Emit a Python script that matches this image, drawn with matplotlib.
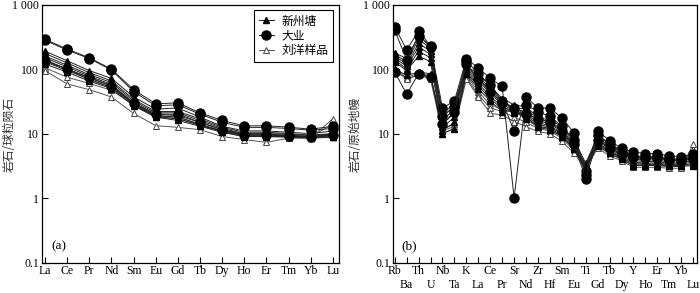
import matplotlib.pyplot as plt

plt.rcParams['font.family'] = ['Liberation Serif', 'Noto Sans CJK SC']

ree = ['La', 'Ce', 'Pr', 'Nd', 'Sm', 'Eu', 'Gd', 'Tb', 'Dy', 'Ho', 'Er', 'Tm', 'Yb', 'Lu']
spider = ['Rb', 'Ba', 'Th', 'U', 'Nb', 'Ta', 'K', 'La', 'Ce', 'Pr', 'Sr', 'Nd', 'Zr',
          'Hf', 'Sm', 'Eu', 'Ti', 'Gd', 'Tb', 'Dy', 'Y', 'Ho', 'Er', 'Tm', 'Yb', 'Lu']

# (a) chondrite normalised REE
xzt_ree = [
    [190, 135, 95, 72, 37, 24, 25, 18, 13, 11, 11, 10.5, 10, 11],
    [175, 125, 88, 66, 34, 22, 22, 17, 12.5, 10.5, 10.5, 10, 9.5, 10],
    [160, 115, 82, 62, 32, 21, 21, 16, 12, 10, 10, 9.8, 9.3, 9.8],
    [150, 108, 78, 58, 30, 20, 19, 15, 11.5, 10, 9.8, 9.5, 9, 9.5],
    [140, 100, 73, 55, 29, 19, 18, 14, 11, 9.6, 9.5, 9.3, 8.8, 9.2],
    [130, 95, 70, 52, 28, 18.5, 17, 13.5, 10.8, 9.3, 9.2, 9, 8.6, 9],
    [120, 90, 65, 50, 27, 18, 16, 13, 10.5, 9, 9, 8.8, 8.5, 8.8],
]
dy_ree = [
    [290, 205, 150, 100, 48, 29, 30, 21, 16, 13.2, 13.2, 12.6, 11.7, 13],
    [280, 198, 146, 97, 45, 27, 28, 20, 15, 12.5, 12.5, 12, 11.3, 12],
    [135, 100, 75, 55, 30, 20, 20, 15, 11.5, 9.5, 9.5, 9.2, 9, 9.5],
]
ly_ree = [
    [135, 100, 68, 52, 30, 19, 18, 14, 11, 9.5, 9.5, 9.2, 9, 10],
    [105, 75, 60, 47, 28, 18, 17, 13.5, 10.5, 9, 9, 9, 9, 14],
    [95, 59, 48, 37, 20.6, 13.3, 12.5, 11.5, 9, 8.1, 7.3, 8.5, 8.5, 17],
]

# (b) primitive mantle normalised trace elements
xzt_sp = [
    [180, 145, 330, 230, 20, 30, 110, 85, 55, 35, 28, 26, 18, 16, 13, 8, 3.5, 9, 7, 5.5, 4.5, 4.3, 4.3, 4, 4, 4.3],
    [170, 130, 290, 210, 18, 27, 105, 78, 50, 32, 25, 24, 17, 15, 12, 7.5, 3.3, 8.5, 6.5, 5.2, 4.2, 4.1, 4.1, 3.8, 3.8, 4],
    [160, 120, 250, 190, 16, 24, 100, 72, 46, 30, 24, 22, 16, 14, 11, 7, 3.2, 8, 6.2, 4.9, 4, 3.9, 3.9, 3.6, 3.6, 3.8],
    [150, 110, 220, 170, 14, 21, 95, 66, 42, 28, 23, 20, 15, 13, 10.5, 6.6, 3.1, 7.6, 5.8, 4.6, 3.8, 3.7, 3.7, 3.4, 3.4, 3.6],
    [140, 100, 190, 150, 12.5, 18, 90, 60, 38, 26, 22, 19, 14, 12.5, 10, 6.3, 3, 7.2, 5.5, 4.4, 3.6, 3.5, 3.5, 3.3, 3.3, 3.4],
    [130, 95, 160, 130, 11, 15, 88, 55, 35, 24, 21, 18, 13, 12, 9.5, 6, 2.9, 6.8, 5.2, 4.2, 3.4, 3.3, 3.3, 3.2, 3.2, 3.3],
    [100, 80, 90, 85, 10, 12, 84, 50, 32, 22, 23, 17, 12.5, 11.5, 9, 5.8, 2.8, 6.5, 5, 4, 3.2, 3.2, 3.2, 3.1, 3.1, 3.2],
]
dy_sp = [
    [450, 200, 390, 230, 25, 32, 145, 105, 72, 54, 1.0, 37, 25, 25, 17.5, 10.4, 2.6, 11, 7.8, 5.9, 5.2, 4.9, 4.9, 4.5, 4.4, 4.8],
    [400, 140, 330, 220, 19, 26, 135, 85, 56, 32, 11, 28, 22, 18.5, 13, 8, 2.3, 9.5, 7, 5.2, 4.5, 4.4, 4.5, 4.1, 4, 4.4],
    [90, 41, 85, 75, 14, 22, 120, 70, 45, 30, 25, 20, 17, 15, 11, 7, 2.0, 8, 6, 4.8, 4.3, 4.2, 4.2, 3.9, 3.8, 4.1],
]
ly_sp = [
    [95, 75, 85, 80, 12, 14, 80, 45, 28, 24, 24, 18, 13, 12, 9, 6, 3.2, 7, 5.2, 4.3, 3.4, 3.4, 3.4, 3.2, 3.2, 5],
    [100, 72, 80, 75, 11, 13, 75, 40, 25, 22, 18, 15, 12, 11, 8.5, 5.5, 3.0, 6.5, 4.8, 4, 3.2, 3.2, 3.2, 3.1, 3.1, 5.8],
    [95, 70, 82, 70, 10, 12, 70, 37, 20.6, 19.5, 15.4, 12.8, 10.8, 10, 7.6, 5, 2.8, 6, 4.5, 3.8, 3, 3, 3, 2.9, 2.9, 6.8],
]

labels = ['新州塘', '大业', '刘洋样品']
cjk = ['Noto Sans CJK SC']

fig = plt.figure(figsize=(7, 2.93), dpi=100)
ax1 = fig.add_axes([0.06, 0.104, 0.424, 0.880])
ax2 = fig.add_axes([0.561, 0.104, 0.435, 0.880])


def draw(ax, groups):
    xz, dy, ly = groups
    x = range(len(xz[0]))
    for i, v in enumerate(xz):
        ax.plot(x, v, '-^', color='#222222', lw=0.7, ms=4.5, mfc='black', mec='black',
                label=labels[0] if i == 0 else None, zorder=3)
    for i, v in enumerate(ly):
        ax.plot(x, v, '-^', color='#555555', lw=0.7, ms=4.5, mfc='white', mec='#444444',
                mew=0.7, label=labels[2] if i == 0 else None, zorder=2)
    for i, v in enumerate(dy):
        ax.plot(x, v, '-o', color='#222222', lw=0.7, ms=6.5, mfc='black', mec='black',
                label=labels[1] if i == 0 else None, zorder=4)
    ax.set_yscale('log')
    ax.set_ylim(0.1, 1000)
    ax.set_yticks([0.1, 1, 10, 100, 1000])
    ax.set_yticklabels(['0.1', '1', '10', '100', '1 000'])
    ax.minorticks_off()
    ax.tick_params(direction='in', length=4, width=0.8, labelsize=8.5, pad=2)
    for s in ax.spines.values():
        s.set_linewidth(0.9)


draw(ax1, (xzt_ree, dy_ree, ly_ree))
ax1.set_xlim(-0.135, 13.27)
ax1.set_xticks(range(len(ree)))
ax1.set_xticklabels(ree)
fig.text(0.013, 0.54, '岩石/球粒陨石', family=cjk, fontsize=8.5, rotation=90,
         ha='center', va='center', color='#333333')
ax1.text(0.03, 0.05, '(a)', transform=ax1.transAxes, fontsize=9.5)
handles, labs = ax1.get_legend_handles_labels()
order = [labs.index(l) for l in labels]
leg = ax1.legend([handles[i] for i in order], [labs[i] for i in order],
                 loc='upper right', bbox_to_anchor=(1.0, 1.003), fancybox=False,
                 edgecolor='black', framealpha=1, prop={'family': cjk, 'size': 8.5},
                 handlelength=1.3, handletextpad=0.6, borderpad=0.4, labelspacing=0.15)
leg.get_frame().set_linewidth(0.8)

draw(ax2, (xzt_sp, dy_sp, ly_sp))
ax2.set_xlim(-0.17, 25.34)
pos = list(range(len(spider)))
ax2.set_xticks(pos[0::2])
ax2.set_xticklabels(spider[0::2])
ax2.set_xticks(pos[1::2], minor=True)
ax2.set_xticklabels(spider[1::2], minor=True)
ax2.tick_params(axis='x', which='minor', direction='in', length=4, width=0.8,
                labelsize=8.5, pad=12)
fig.text(0.508, 0.54, '岩石/原始地幔', family=cjk, fontsize=8.5, rotation=90,
         ha='center', va='center', color='#333333')
ax2.text(0.03, 0.05, '(b)', transform=ax2.transAxes, fontsize=9.5)

fig.savefig('out.png', dpi=100)
